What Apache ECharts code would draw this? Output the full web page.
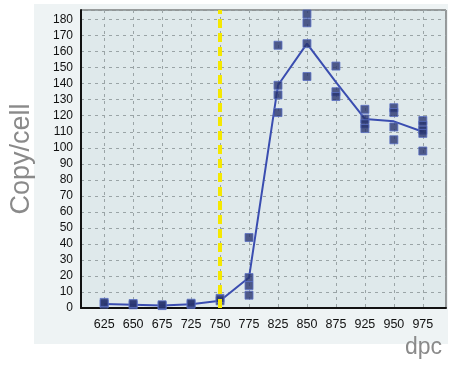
<!DOCTYPE html>
<html><head><meta charset="utf-8">
<script src="https://cdn.jsdelivr.net/npm/echarts@6/dist/echarts.min.js"></script>
<style>html,body{margin:0;padding:0;background:#fff}#c{width:452px;height:365px}</style>
</head><body><div id="c"></div>
<script>
const categories = ['625','650','675','725','750','775','825','850','875','925','950','975'];
const meanValues = [2.5, 2, 1.5, 2.3, 4.5, 19, 139, 165, 141, 118, 116.5, 110];
const replicates = [
  [2.5, 3.5],
  [2, 2.8],
  [1.5, 2],
  [2.3, 3],
  [4.5, 6],
  [44, 19, 14, 8],
  [164, 139, 133, 122],
  [183.5, 178, 165, 144.5],
  [151, 135, 132],
  [124, 118, 115, 112],
  [125, 122, 113, 105],
  [117, 114, 111, 109, 98]
];
const yTicks = [0,10,20,30,40,50,60,70,80,90,100,110,120,130,140,150,160,170,180];
const markerIndex = 4;

const idx = categories.map((c, i) => i);
const scatterData = [];
replicates.forEach((arr, i) => arr.forEach(v => scatterData.push([i, v])));
const lineData = meanValues.map((v, i) => [i, v]);

const chart = echarts.init(document.getElementById('c'));
chart.setOption({
  animation: false,
  backgroundColor: '#ffffff',
  graphic: [{
    type: 'rect', z: -10, silent: true,
    shape: {x: 34, y: 4, width: 414, height: 340},
    style: {fill: '#eef3f4'}
  }, {
    type: 'text', left: 405, top: 336,
    style: {text: 'dpc', fill: '#8a8a8a', fontSize: 23, fontFamily: 'Liberation Sans, Arial'}
  }],
  grid: {left: 78, right: 6, top: 10, bottom: 57, show: true,
         backgroundColor: '#dfe9eb', borderColor: '#444', borderWidth: 1},
  xAxis: {
    type: 'value', min: -0.8, max: 11.8,
    axisLine: {show: true, onZero: false, lineStyle: {color: '#111', width: 2}},
    axisTick: {show: false, customValues: idx},
    axisLabel: {customValues: idx, formatter: v => categories[Math.round(v)],
                color: '#111', fontSize: 12.5, fontFamily: 'Liberation Sans, Arial', margin: 10},
    splitLine: {show: true, lineStyle: {color: '#9aa4a6', type: [3, 4], width: 1}}
  },
  yAxis: {
    type: 'value', min: 0, max: 186, interval: 10,
    name: 'Copy/cell', nameLocation: 'middle', nameGap: 46,
    nameTextStyle: {color: '#8a8a8a', fontSize: 27, fontFamily: 'Liberation Sans, Arial'},
    axisLine: {show: true, onZero: false, lineStyle: {color: '#111', width: 2}},
    axisTick: {show: false},
    axisLabel: {color: '#111', fontSize: 12, fontFamily: 'Liberation Sans, Arial', margin: 8, showMaxLabel: false,
                formatter: v => (yTicks.indexOf(v) >= 0 ? String(v) : '')},
    splitLine: {show: true, lineStyle: {color: '#9aa4a6', type: [3, 4], width: 1}}
  },
  series: [
    {
      type: 'line', data: lineData, showSymbol: false, z: 3,
      lineStyle: {color: '#3a4db0', width: 2},
      markLine: {
        silent: true, symbol: 'none', label: {show: false},
        lineStyle: {color: '#f5e800', type: [9, 5], width: 4},
        data: [{xAxis: markerIndex}]
      }
    },
    {
      type: 'scatter', data: scatterData, symbol: 'rect', symbolSize: 8, z: 4,
      itemStyle: {color: '#28346f', borderColor: '#5b70c4', borderWidth: 1}
    }
  ],
  textStyle: {fontFamily: 'Liberation Sans, Arial'}
});
</script></body></html>
